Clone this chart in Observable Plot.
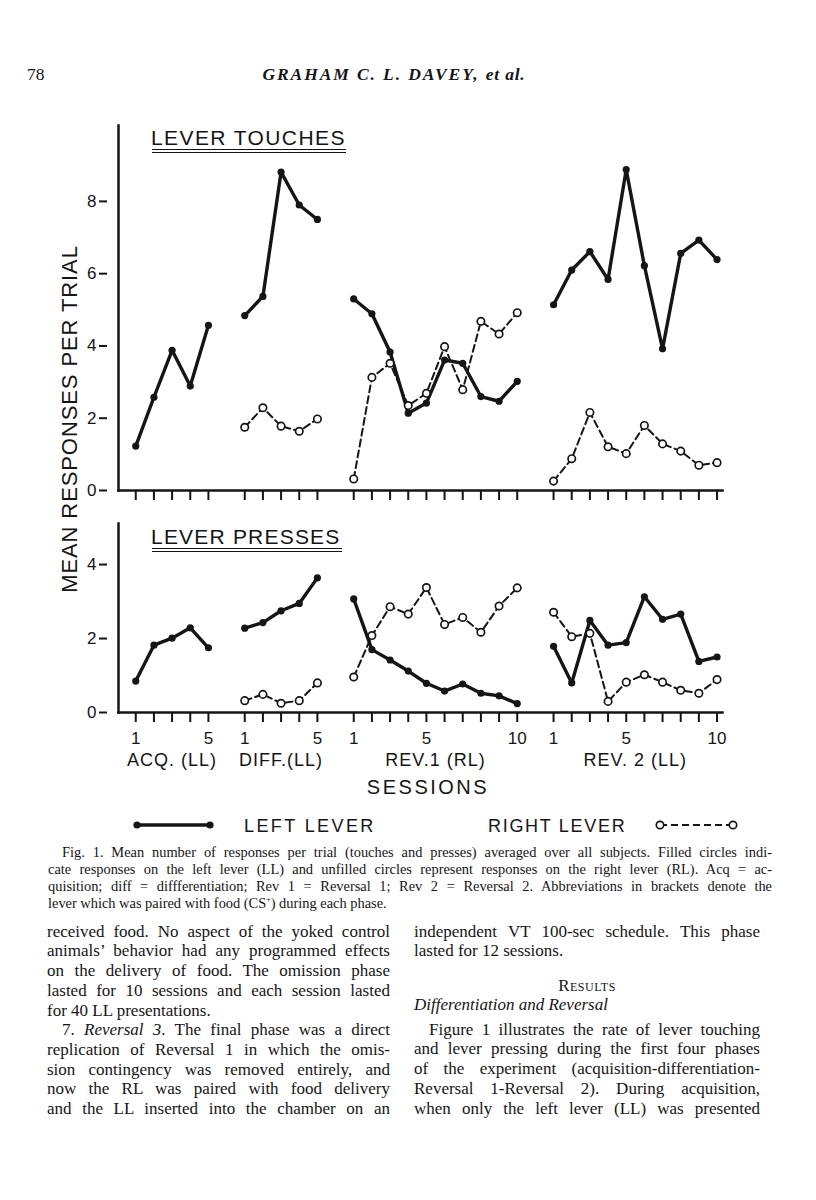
<!DOCTYPE html>
<html><head><meta charset="utf-8">
<script src="https://cdn.jsdelivr.net/npm/d3@7"></script>
<script src="https://cdn.jsdelivr.net/npm/@observablehq/plot@0.6"></script>
<style>
body{margin:0;background:#fff;}
#page{position:relative;width:816px;height:1200px;background:#fff;color:#151515;overflow:hidden;}
.t{position:absolute;white-space:nowrap;line-height:1;}
.sans{font-family:"Liberation Sans",Arial,sans-serif;}
.serif{font-family:"Liberation Serif","Times New Roman",serif;}
.j{position:absolute;white-space:nowrap;text-align:justify;text-align-last:justify;line-height:1;}
.plot{position:absolute;left:0;}
#bottomPlot g[aria-label="text"] text{letter-spacing:1px;}
.dbl{position:absolute;height:2.6px;border-top:1.6px solid #151515;border-bottom:1.6px solid #151515;}
</style></head>
<body><div id="page"></div>
<script>
// ---------------- data ----------------
const phases = ["ACQ. (LL)", "DIFF.(LL)", "REV.1 (RL)", "REV. 2 (LL)"];
const phaseLengths = [5, 5, 10, 10];
const labelledSessions = [1, 5, 10];
const touchYTicks = [0, 2, 4, 6, 8];
const pressYTicks = [0, 2, 4];

// LEVER TOUCHES
const touchLL_acq  = [1.23, 2.58, 3.88, 2.89, 4.57];
const touchLL_diff = [4.84, 5.37, 8.81, 7.90, 7.50];
const touchRL_diff = [1.75, 2.29, 1.78, 1.64, 1.98];
const touchLL_rev1 = [5.30, 4.89, 3.83, 2.14, 2.42, 3.61, 3.52, 2.60, 2.47, 3.02];
const touchRL_rev1 = [0.32, 3.13, 3.52, 2.35, 2.69, 3.98, 2.79, 4.68, 4.33, 4.92];
const touchLL_rev2 = [5.14, 6.10, 6.61, 5.84, 8.88, 6.22, 3.92, 6.56, 6.93, 6.39];
const touchRL_rev2 = [0.26, 0.88, 2.16, 1.21, 1.02, 1.80, 1.29, 1.09, 0.70, 0.77];

// LEVER PRESSES
const pressLL_acq  = [0.85, 1.82, 2.01, 2.29, 1.75];
const pressLL_diff = [2.28, 2.43, 2.75, 2.95, 3.64];
const pressRL_diff = [0.32, 0.49, 0.25, 0.32, 0.80];
const pressLL_rev1 = [3.07, 1.70, 1.42, 1.12, 0.79, 0.58, 0.77, 0.52, 0.45, 0.24];
const pressRL_rev1 = [0.96, 2.08, 2.86, 2.66, 3.38, 2.38, 2.57, 2.17, 2.88, 3.37];
const pressLL_rev2 = [1.79, 0.80, 2.49, 1.82, 1.89, 3.13, 2.52, 2.66, 1.38, 1.50];
const pressRL_rev2 = [2.71, 2.05, 2.14, 0.30, 0.82, 1.02, 0.82, 0.60, 0.52, 0.89];

// ---------------- build tables ----------------
let acc = 0;
const phaseOffset = phaseLengths.map(n => { const o = acc; acc += n + 1; return o; });
const slotOf = (p, s) => phaseOffset[p] + s - 1;

function rows(seriesByPhase) {
  const out = [];
  seriesByPhase.forEach((vals, p) => {
    if (!vals) return;
    vals.forEach((v, i) => out.push({phase: phases[p], session: i + 1, slot: slotOf(p, i + 1), value: v}));
  });
  return out;
}
const touchLL = rows([touchLL_acq, touchLL_diff, touchLL_rev1, touchLL_rev2]);
const touchRL = rows([null, touchRL_diff, touchRL_rev1, touchRL_rev2]);
const pressLL = rows([pressLL_acq, pressLL_diff, pressLL_rev1, pressLL_rev2]);
const pressRL = rows([null, pressRL_diff, pressRL_rev1, pressRL_rev2]);

const tickSlots = [], tickLabel = new Map();
phaseLengths.forEach((n, p) => {
  for (let s = 1; s <= n; s++) {
    const sl = slotOf(p, s);
    tickSlots.push(sl);
    tickLabel.set(sl, labelledSessions.includes(s) ? String(s) : "");
  }
});
const phaseCenters = phases.map((name, p) => ({name, center: (slotOf(p, 1) + slotOf(p, phaseLengths[p])) / 2}));

const INK = "#151515";
const xDomain = [-0.95, 32.3];

function panel({ll, rl, ymax, yTicks, height, marginTop, marginBottom, labels, extra = []}) {
  return Plot.plot({
    width: 816, height, marginLeft: 118, marginRight: 94, marginTop, marginBottom,
    x: {domain: xDomain, axis: null},
    y: {domain: [0, ymax], axis: null},
    style: {fontFamily: "Liberation Sans, Arial, sans-serif", color: INK, background: "transparent", overflow: "visible"},
    marks: [
      Plot.axisY({ticks: yTicks, label: null, tickSize: 8, dx: -11, tickPadding: 3, fontSize: 17, strokeWidth: 2, tickFormat: d => String(d)}),
      Plot.axisX({ticks: tickSlots, label: null, tickSize: 10, tickPadding: 9, fontSize: 17, strokeWidth: 2,
                  tickFormat: d => labels ? tickLabel.get(d) : ""}),
      Plot.frame({anchor: "left", stroke: INK, strokeWidth: 2.5}),
      Plot.frame({anchor: "bottom", stroke: INK, strokeWidth: 2.5}),
      Plot.line(rl, {x: "slot", y: "value", z: "phase", stroke: INK, strokeWidth: 2, strokeDasharray: "7,4"}),
      Plot.line(ll, {x: "slot", y: "value", z: "phase", stroke: INK, strokeWidth: 3.4}),
      Plot.dot(ll, {x: "slot", y: "value", r: 3.6, fill: INK}),
      Plot.dot(rl, {x: "slot", y: "value", r: 3.7, fill: "white", stroke: INK, strokeWidth: 1.7}),
      ...extra
    ]
  });
}

const page = document.getElementById("page");

const topPanel = panel({ll: touchLL, rl: touchRL, ymax: 10.1, yTicks: touchYTicks, height: 400, marginTop: 15, marginBottom: 20, labels: false});
topPanel.classList.add("plot"); topPanel.style.top = "110px"; topPanel.id = "topPlot";
page.appendChild(topPanel);

const bottomPanel = panel({ll: pressLL, rl: pressRL, ymax: 5.11, yTicks: pressYTicks, height: 272, marginTop: 18, marginBottom: 65, labels: true,
  extra: [Plot.text(phaseCenters, {x: "center", text: "name", frameAnchor: "bottom", dy: 53, fontSize: 18, fill: INK})]});
bottomPanel.classList.add("plot"); bottomPanel.style.top = "505px"; bottomPanel.id = "bottomPlot";
page.appendChild(bottomPanel);

// ---------------- text helpers ----------------
function addText(html, {x, base, size, cls = "sans", anchor = "start", ls = 0, style = ""}) {
  const d = document.createElement("div");
  d.className = "t " + cls;
  d.innerHTML = html;
  const asc = cls === "serif" ? 0.8375 : 0.8465;
  d.style.cssText += `font-size:${size}px;top:${base - asc * size}px;letter-spacing:${ls}px;${style}`;
  page.appendChild(d);
  const w = d.getBoundingClientRect().width;
  d.style.left = (anchor === "middle" ? x - w / 2 : anchor === "end" ? x - w : x) + "px";
  return d;
}
function addLine(html, {x, base, width, size, justify = true, style = ""}) {
  const d = document.createElement("div");
  d.className = (justify ? "j" : "t") + " serif";
  d.innerHTML = html;
  d.style.cssText += `left:${x}px;width:${width}px;font-size:${size}px;top:${base - 0.8375 * size}px;${style}`;
  page.appendChild(d);
}
function dbl(x, y, w) {
  const d = document.createElement("div");
  d.className = "dbl";
  d.style.left = x + "px"; d.style.top = y + "px"; d.style.width = w + "px";
  page.appendChild(d);
}

// header
addText("78", {x: 27, base: 81, size: 17.5, cls: "serif"});
addText("GRAHAM C. L. DAVEY, <span style='letter-spacing:0.8px'>et al.</span>", {x: 394, base: 81, size: 17.5, cls: "serif", anchor: "middle", ls: 1.9, style: "font-style:italic;font-weight:bold;"});

// panel titles
addText("LEVER TOUCHES", {x: 151, base: 145, size: 21, ls: 1.4});
dbl(152, 148.5, 194);
addText("LEVER PRESSES", {x: 151, base: 544, size: 21, ls: 1.2});
dbl(152, 547.5, 190);

// y title (rotated)
const yt = document.createElement("div");
yt.className = "t sans";
yt.textContent = "MEAN RESPONSES PER TRIAL";
yt.style.cssText += "font-size:22px;letter-spacing:0.9px;left:70px;top:419px;transform:translate(-50%,-50%) rotate(-90deg);transform-origin:50% 50%;";
page.appendChild(yt);

// x title
addText("SESSIONS", {x: 428, base: 794, size: 20, anchor: "middle", ls: 2.5});

// legend
const lg = document.createElementNS("http://www.w3.org/2000/svg", "svg");
lg.setAttribute("width", 816); lg.setAttribute("height", 30);
lg.style.cssText = "position:absolute;left:0;top:811px;";
lg.innerHTML = `
 <line x1="137" y1="14" x2="210" y2="14" stroke="${INK}" stroke-width="3.4"/>
 <circle cx="137" cy="14" r="3.6" fill="${INK}"/><circle cx="210" cy="14" r="3.6" fill="${INK}"/>
 <line x1="660" y1="14" x2="733" y2="14" stroke="${INK}" stroke-width="2" stroke-dasharray="7,4"/>
 <circle cx="660" cy="14" r="3.7" fill="white" stroke="${INK}" stroke-width="1.7"/>
 <circle cx="733" cy="14" r="3.7" fill="white" stroke="${INK}" stroke-width="1.7"/>`;
page.appendChild(lg);
addText("LEFT LEVER", {x: 244, base: 832, size: 18, ls: 2.4});
addText("RIGHT LEVER", {x: 488, base: 832, size: 18, ls: 1.7});

// caption
const capLines = [
  ["Fig. 1. Mean number of responses per trial (touches and presses) averaged over all subjects. Filled circles indi-", 62, true],
  ["cate responses on the left lever (LL) and unfilled circles represent responses on the right lever (RL). Acq = ac-", 48, true],
  ["quisition; diff = diffferentiation; Rev 1 = Reversal 1; Rev 2 = Reversal 2. Abbreviations in brackets denote the", 48, true],
  ["lever which was paired with food (CS<sup style='font-size:8px'>+</sup>) during each phase.", 48, false]
];
capLines.forEach(([t, x, j], i) => addLine(t, {x, base: 857 + 17 * i, width: 772 - x, size: 14.4, justify: j}));

// body text, left column
const leftCol = [
  ["received food. No aspect of the yoked control", 47, true],
  ["animals’ behavior had any programmed effects", 47, true],
  ["on the delivery of food. The omission phase", 47, true],
  ["lasted for 10 sessions and each session lasted", 47, true],
  ["for 40 LL presentations.", 47, false],
  ["7. <i>Reversal 3</i>. The final phase was a direct", 62, true],
  ["replication of Reversal 1 in which the omis-", 47, true],
  ["sion contingency was removed entirely, and", 47, true],
  ["now the RL was paired with food delivery", 47, true],
  ["and the LL inserted into the chamber on an", 47, true]
];
leftCol.forEach(([t, x, j], i) => addLine(t, {x, base: 937 + 19.7 * i, width: 390 - x, size: 17, justify: j}));

// body text, right column
const rightCol = [
  ["independent VT 100-sec schedule. This phase", 414, true, 937],
  ["lasted for 12 sessions.", 414, false, 956.5],
  ["<i>Differentiation and Reversal</i>", 414, false, 1010.5],
  ["Figure 1 illustrates the rate of lever touching", 429, true, 1035],
  ["and lever pressing during the first four phases", 414, true, 1054.7],
  ["of the experiment (acquisition-differentiation-", 414, true, 1074.4],
  ["Reversal 1-Reversal 2). During acquisition,", 414, true, 1094.1],
  ["when only the left lever (LL) was presented", 414, true, 1113.8]
];
rightCol.forEach(([t, x, j, b]) => addLine(t, {x, base: b, width: 760 - x, size: 17, justify: j}));
addText("Results", {x: 587, base: 991, size: 17, cls: "serif", anchor: "middle", style: "font-variant:small-caps;letter-spacing:0.5px;"});
</script>
</body></html>
